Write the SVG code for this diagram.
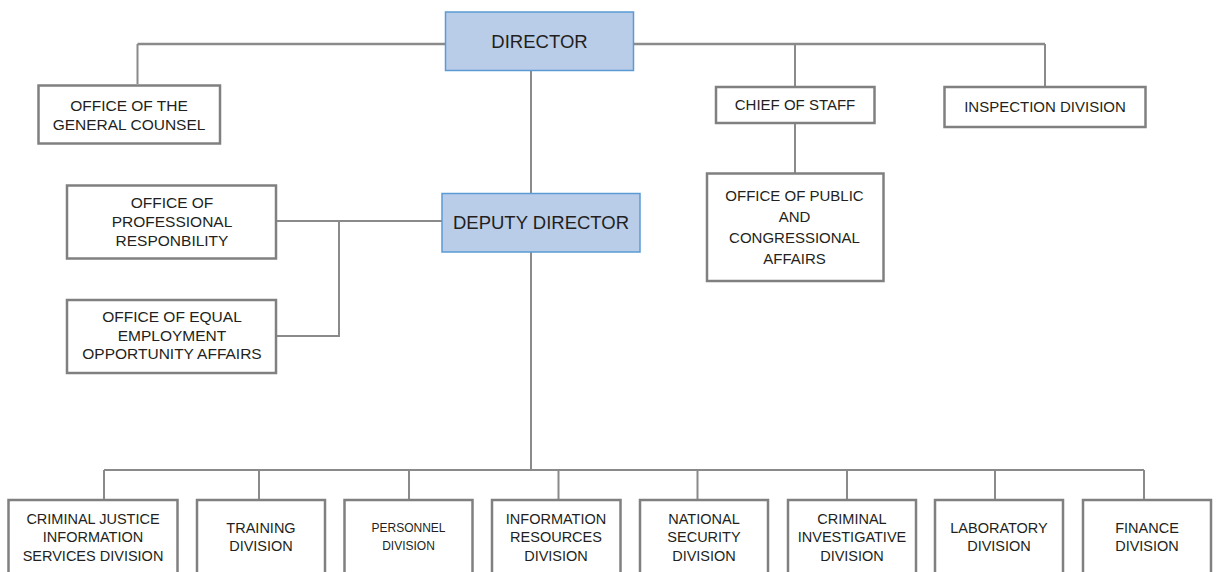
<svg xmlns="http://www.w3.org/2000/svg" width="1216" height="572" viewBox="0 0 1216 572">
<style>
  .box { fill: #ffffff; stroke: #808080; stroke-width: 2.5; }
  .lead { fill: #b9cce8; stroke: #5b9bd5; stroke-width: 1.5; }
  .conn { fill: none; stroke: #8a8a8a; stroke-width: 2; }
  .top { stroke-width: 2.6; }
  text { font-family: "Liberation Sans", Arial, sans-serif; fill: #231f20; text-anchor: middle; }
  .t { font-size: 15px; }
  .tl { font-size: 15.5px; }
  .tb { font-size: 14.5px; }
  .ts { font-size: 12px; }
  .big { font-size: 18.5px; }
</style>
<rect width="1216" height="572" fill="#ffffff"/>
<g id="connectors">
  <path class="conn top" d="M137.5,44 H446 M633,44 H1045"/>
  <path class="conn" d="M137.5,44 V84 M795,44 V87 M1045,44 V87"/>
  <path class="conn" d="M795,123 V173"/>
  <path class="conn" d="M531,71 V193 M531,252 V470"/>
  <path class="conn" d="M442,221 H277 M339,221 V336 H277"/>
  <path class="conn" d="M104,470 H1144"/>
  <path class="conn" d="M104,470 V500 M259,470 V500 M409,470 V500 M558.5,470 V500 M697.5,470 V500 M847,470 V500 M995,470 V500 M1144,470 V500"/>
</g>
<g id="director">
  <rect class="lead" x="445.5" y="12" width="188" height="58.5"/>
  <text class="big" x="539.5" y="48">DIRECTOR</text>
</g>
<g id="general-counsel">
  <rect class="box" x="38.5" y="85.5" width="181.5" height="58"/>
  <text class="tl" x="129" y="110.5">OFFICE OF THE</text>
  <text class="tl" x="129" y="129.5">GENERAL COUNSEL</text>
</g>
<g id="chief-of-staff">
  <rect class="box" x="716" y="87" width="158.5" height="36"/>
  <text class="t" x="795" y="110">CHIEF OF STAFF</text>
</g>
<g id="inspection-division">
  <rect class="box" x="944.5" y="87" width="201" height="40"/>
  <text class="t" x="1045" y="112">INSPECTION DIVISION</text>
</g>
<g id="public-congressional-affairs">
  <rect class="box" x="707" y="173.5" width="176.5" height="107.5"/>
  <text class="t" x="794.5" y="200.5">OFFICE OF PUBLIC</text>
  <text class="t" x="794.5" y="222">AND</text>
  <text class="t" x="794.5" y="243">CONGRESSIONAL</text>
  <text class="t" x="794.5" y="264">AFFAIRS</text>
</g>
<g id="deputy-director">
  <rect class="lead" x="442" y="193.5" width="198" height="58.5"/>
  <text class="big" x="541" y="229">DEPUTY DIRECTOR</text>
</g>
<g id="professional-responsibility">
  <rect class="box" x="67" y="185.5" width="209" height="73"/>
  <text class="tl" x="172" y="207.5">OFFICE OF</text>
  <text class="tl" x="172" y="226.5">PROFESSIONAL</text>
  <text class="tl" x="172" y="245.5">RESPONBILITY</text>
</g>
<g id="equal-employment">
  <rect class="box" x="67" y="300" width="209" height="73"/>
  <text class="tl" x="172" y="322">OFFICE OF EQUAL</text>
  <text class="tl" x="172" y="340.5">EMPLOYMENT</text>
  <text class="tl" x="172" y="359">OPPORTUNITY AFFAIRS</text>
</g>
<g id="cjis-division">
  <rect class="box" x="8.5" y="500" width="169" height="90"/>
  <text class="tb" x="93" y="523.5">CRIMINAL JUSTICE</text>
  <text class="tb" x="93" y="542">INFORMATION</text>
  <text class="tb" x="93" y="560.5">SERVICES DIVISION</text>
</g>
<g id="training-division">
  <rect class="box" x="197" y="500" width="128" height="90"/>
  <text class="tb" x="261" y="532.5">TRAINING</text>
  <text class="tb" x="261" y="550.5">DIVISION</text>
</g>
<g id="personnel-division">
  <rect class="box" x="344.5" y="500" width="128" height="90"/>
  <text class="ts" x="408.5" y="532">PERSONNEL</text>
  <text class="ts" x="408.5" y="550">DIVISION</text>
</g>
<g id="information-resources-division">
  <rect class="box" x="492" y="500" width="128.5" height="90"/>
  <text class="tb" x="556" y="523.5">INFORMATION</text>
  <text class="tb" x="556" y="542">RESOURCES</text>
  <text class="tb" x="556" y="560.5">DIVISION</text>
</g>
<g id="national-security-division">
  <rect class="box" x="640" y="500" width="128" height="90"/>
  <text class="tb" x="704" y="523.5">NATIONAL</text>
  <text class="tb" x="704" y="542">SECURITY</text>
  <text class="tb" x="704" y="560.5">DIVISION</text>
</g>
<g id="criminal-investigative-division">
  <rect class="box" x="788" y="500" width="128" height="90"/>
  <text class="tb" x="852" y="523.5">CRIMINAL</text>
  <text class="tb" x="852" y="542">INVESTIGATIVE</text>
  <text class="tb" x="852" y="560.5">DIVISION</text>
</g>
<g id="laboratory-division">
  <rect class="box" x="935" y="500" width="128" height="90"/>
  <text class="tb" x="999" y="532.5">LABORATORY</text>
  <text class="tb" x="999" y="550.5">DIVISION</text>
</g>
<g id="finance-division">
  <rect class="box" x="1083" y="500" width="128" height="90"/>
  <text class="tb" x="1147" y="532.5">FINANCE</text>
  <text class="tb" x="1147" y="550.5">DIVISION</text>
</g>
</svg>
